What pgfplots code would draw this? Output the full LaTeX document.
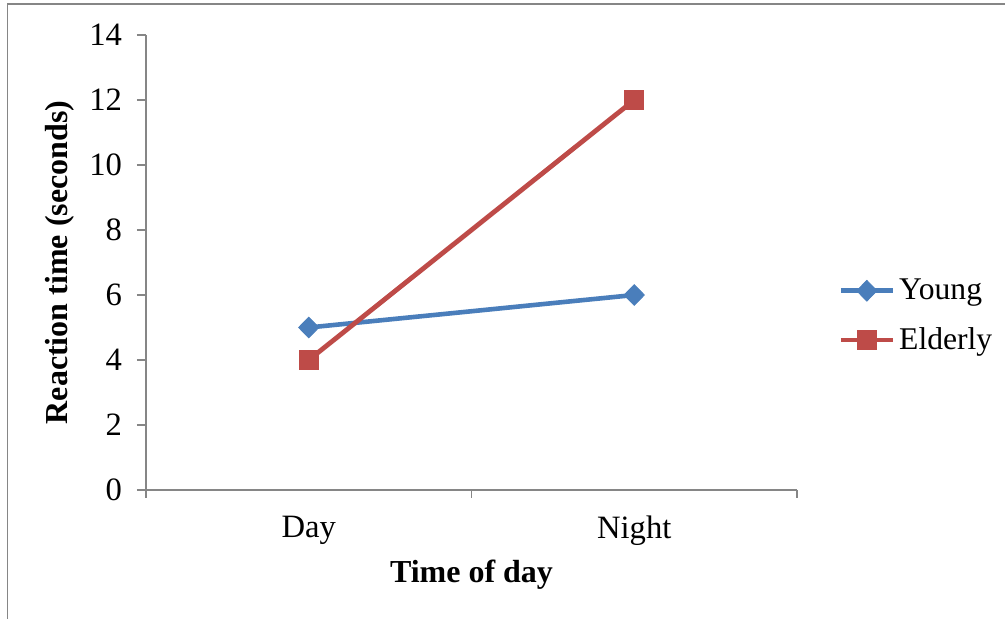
\documentclass[border=0pt]{standalone}
\usepackage{pgfplots}
\pgfplotsset{compat=1.18}
\usepackage{fontspec}
\setmainfont{Liberation Serif}
\definecolor{young}{RGB}{74,126,187}
\definecolor{elderly}{RGB}{190,75,72}
\definecolor{axgray}{RGB}{134,134,134}
\begin{document}
\begin{tikzpicture}
\begin{axis}[
    at={(0pt,0pt)}, anchor=south west,
    scale only axis,
    width=325.5pt, height=227.5pt,
    axis lines=left,
    axis line style={axgray, line width=0.8pt, -},
    xmin=-0.5, xmax=1.5,
    ymin=0, ymax=14,
    xtick={0,1},
    xticklabels={Day, Night},
    major x tick style={draw=none},
    minor xtick={-0.5,0.5,1.5},
    minor tick length=4pt,
    ytick={0,2,...,14},
    major tick length=4.5pt,
    tick align=outside,
    tick style={axgray, line width=0.8pt},
    ticklabel style={font=\fontsize{16.3}{19}\selectfont},
    yticklabel style={xshift=-4pt},
    xticklabel style={yshift=-5pt},
    /pgf/number format/assume math mode=true,
    xlabel={\textbf{Time of day}},
    ylabel={\textbf{Reaction time (seconds)}},
    label style={font=\fontsize{16}{19}\selectfont},
    xlabel style={at={(rel axis cs:0.5,-0.187)}, anchor=center},
    ylabel style={at={(rel axis cs:-0.132,0.5)}, anchor=center},
    legend style={at={(rel axis cs:1.063,0.383)}, anchor=west, draw=none, fill=none,
        inner sep=0pt, row sep=8.5pt, font=\fontsize{15.8}{19}\selectfont,
        /tikz/every even column/.append style={column sep=1.5pt}},
    legend cell align=left,
    legend image code/.code={\draw[mark repeat=2,mark phase=2,#1] plot coordinates {(0pt,0pt)(13pt,0pt)(26pt,0pt)};},
    clip=false,
]
\addplot[young, line width=2.3pt, mark=diamond*, mark size=5.2pt, mark options={solid, fill=young, line width=0.4pt, xscale=1.3}] coordinates {(0,5) (1,6)};
\addplot[elderly, line width=2.4pt, mark=square*, mark size=4.7pt, mark options={solid, fill=elderly, line width=0.4pt}] coordinates {(0,4) (1,12)};
\legend{Young, Elderly}
\end{axis}
\draw[axgray, line width=0.8pt] (-69.25pt,-64.5pt) -- (-69.25pt,243pt) -- (429.5pt,243pt);
\pgfresetboundingbox
\useasboundingbox (-73pt,-64.5pt) rectangle (429.5pt,245pt);
\end{tikzpicture}
\end{document}
